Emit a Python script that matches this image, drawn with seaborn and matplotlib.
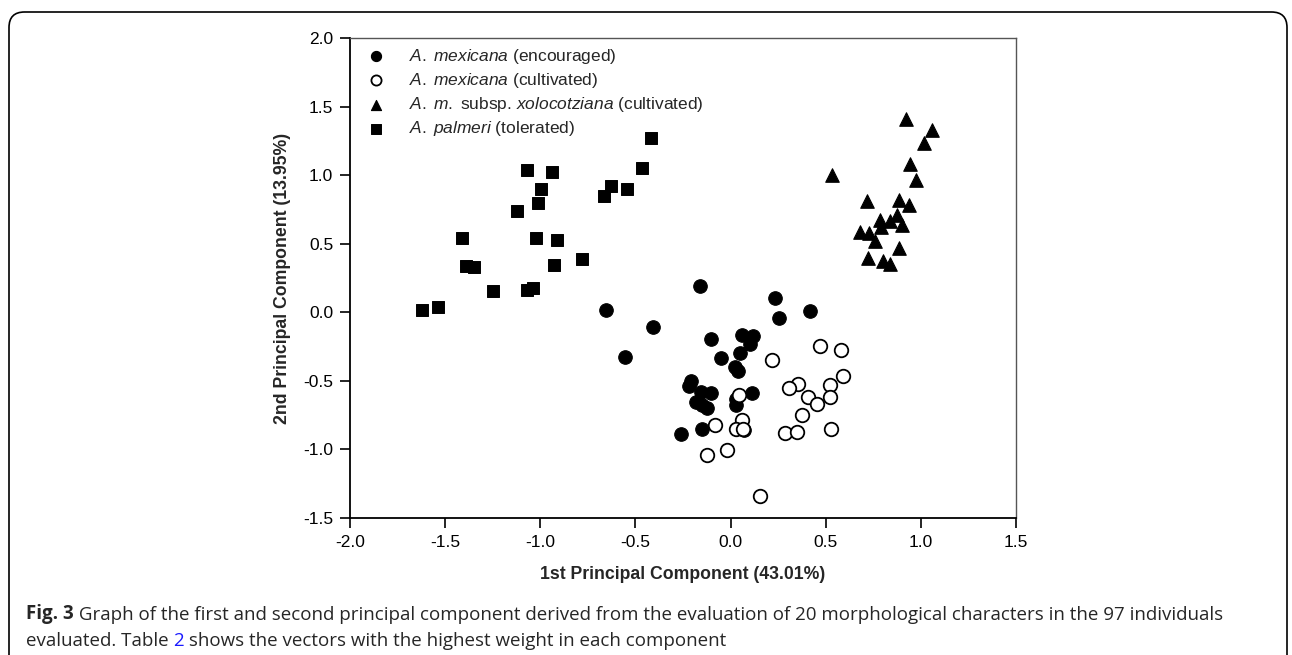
import pandas as pd
import seaborn as sns
import matplotlib.pyplot as plt
from matplotlib.patches import FancyBboxPatch

# PC scores
enc_x = [-0.653, -0.41, -0.16, -0.555, 0.232, 0.253, 0.42, -0.105, 0.058, 0.119, 0.10, 0.047,
         -0.049, 0.023, 0.04, -0.206, -0.218, -0.157, -0.105, -0.183, -0.148, -0.126, 0.11,
         0.031, 0.026, -0.258, -0.152, 0.07]
enc_y = [0.02, -0.11, 0.19, -0.326, 0.107, -0.04, 0.007, -0.197, -0.163, -0.175, -0.233, -0.30,
         -0.335, -0.40, -0.43, -0.503, -0.535, -0.581, -0.589, -0.654, -0.678, -0.70, -0.589,
         -0.63, -0.678, -0.89, -0.853, -0.855]

cult_x = [0.22, 0.468, 0.578, 0.592, 0.524, 0.356, 0.305, 0.407, 0.522, 0.454, 0.374, 0.285,
          0.351, 0.527, 0.045, 0.061, 0.03, 0.066, -0.082, -0.017, -0.126, 0.154]
cult_y = [-0.35, -0.243, -0.277, -0.467, -0.53, -0.52, -0.55, -0.615, -0.62, -0.67, -0.75, -0.88,
          -0.875, -0.85, -0.605, -0.788, -0.85, -0.85, -0.82, -1.007, -1.04, -1.342]

xolo_x = [0.922, 1.06, 1.016, 0.943, 0.974, 0.533, 0.718, 0.884, 0.938, 0.873, 0.838, 0.787,
          0.79, 0.903, 0.68, 0.725, 0.76, 0.887, 0.723, 0.803, 0.838]
xolo_y = [1.41, 1.33, 1.235, 1.08, 0.963, 0.999, 0.81, 0.82, 0.785, 0.707, 0.666, 0.67,
          0.62, 0.64, 0.586, 0.578, 0.52, 0.47, 0.396, 0.372, 0.355]

palm_x = [-0.42, -1.07, -0.94, -0.995, -1.01, -1.12, -0.466, -0.627, -0.667, -0.545, -1.41,
          -1.025, -0.91, -1.39, -1.35, -0.93, -0.78, -1.25, -1.07, -1.04, -1.62, -1.54]
palm_y = [1.27, 1.04, 1.02, 0.90, 0.80, 0.74, 1.05, 0.92, 0.85, 0.90, 0.54,
          0.545, 0.53, 0.34, 0.33, 0.345, 0.39, 0.155, 0.16, 0.18, 0.02, 0.035]

groups = ["enc", "cult", "xolo", "palm"]
labels = [r"$\it{A.\;mexicana}$ (encouraged)",
          r"$\it{A.\;mexicana}$ (cultivated)",
          r"$\it{A.\;m.}$ subsp. $\it{xolocotziana}$ (cultivated)",
          r"$\it{A.\;palmeri}$ (tolerated)"]

df = pd.concat([
    pd.DataFrame({"pc1": enc_x, "pc2": enc_y, "group": "enc"}),
    pd.DataFrame({"pc1": cult_x, "pc2": cult_y, "group": "cult"}),
    pd.DataFrame({"pc1": xolo_x, "pc2": xolo_y, "group": "xolo"}),
    pd.DataFrame({"pc1": palm_x, "pc2": palm_y, "group": "palm"}),
], ignore_index=True)

sns.set_style("white")
plt.rcParams["font.family"] = ["Liberation Sans", "DejaVu Sans"]
plt.rcParams["mathtext.fontset"] = "custom"
plt.rcParams["mathtext.it"] = "Liberation Sans:italic"
plt.rcParams["mathtext.rm"] = "Liberation Sans"

fig = plt.figure(figsize=(12.92, 6.55), dpi=100)
ax = fig.add_axes([350 / 1292, 1 - 518 / 655, (1016 - 350) / 1292, (518 - 38) / 655])

styles = {
    "enc": dict(marker="o", color="black", edgecolor="black", s=95),
    "cult": dict(marker="o", color="white", edgecolor="black", s=95, linewidth=1.3),
    "xolo": dict(marker="^", color="black", edgecolor="black", s=95),
    "palm": dict(marker="s", color="black", edgecolor="black", s=75),
}
for g, lab in zip(groups, labels):
    sns.scatterplot(data=df[df.group == g], x="pc1", y="pc2", ax=ax, label=lab, **styles[g])

ax.set_xlim(-2.0, 1.5)
ax.set_ylim(-1.5, 2.0)
ax.set_xticks([-2.0, -1.5, -1.0, -0.5, 0.0, 0.5, 1.0, 1.5])
ax.set_yticks([-1.5, -1.0, -0.5, 0.0, 0.5, 1.0, 1.5, 2.0])
ax.xaxis.set_major_formatter(plt.FormatStrFormatter("%.1f"))
ax.yaxis.set_major_formatter(plt.FormatStrFormatter("%.1f"))
ax.tick_params(axis="both", which="major", direction="out", length=7, width=1.2,
               labelsize=12.5, color="black", labelcolor="black",
               bottom=True, left=True, pad=5)
for side in ["left", "bottom"]:
    ax.spines[side].set_color("black")
    ax.spines[side].set_linewidth(1.3)
for side in ["top", "right"]:
    ax.spines[side].set_color("#555555")
    ax.spines[side].set_linewidth(1.0)

ax.set_xlabel("1st Principal Component (43.01%)", fontsize=12.7, fontweight="bold", labelpad=12)
ax.set_ylabel("2nd Principal Component (13.95%)", fontsize=12.7, fontweight="bold", labelpad=9)

leg = ax.legend(loc="upper left", frameon=False, fontsize=12.5, markerscale=0.75,
                handletextpad=0.9, labelspacing=0.3, borderaxespad=0.1,
                bbox_to_anchor=(0.0, 1.0))

# rounded frame around the figure
frame = FancyBboxPatch((9 / 1292, -0.05), 1278 / 1292, 1 - 12 / 655 + 0.05,
                       boxstyle="round,pad=0,rounding_size=0.012",
                       transform=fig.transFigure, fill=False, edgecolor="black",
                       linewidth=1.2, mutation_aspect=1292 / 655)
fig.patches.append(frame)

# caption
cap_font = ["Open Sans", "DejaVu Sans"]
t1 = fig.text(26 / 1292, 1 - 619 / 655, "Fig. 3", fontsize=13.5, fontweight="bold",
              family=cap_font, va="baseline")
ax.annotate(" Graph of the first and second principal component derived from the evaluation "
            "of 20 morphological characters in the 97 individuals",
            xy=(1, 0), xycoords=t1, va="bottom", fontsize=13.5, family=cap_font,
            annotation_clip=False)
t2 = fig.text(26 / 1292, 1 - 646 / 655, "evaluated. Table ", fontsize=13.5,
              family=cap_font, va="baseline")
t3 = ax.annotate("2", xy=(1, 0), xycoords=t2, va="bottom", fontsize=13.5,
                 family=cap_font, color="#1a1aff", annotation_clip=False)
ax.annotate(" shows the vectors with the highest weight in each component",
            xy=(1, 0), xycoords=t3, va="bottom", fontsize=13.5, family=cap_font,
            annotation_clip=False)

fig.savefig("out.png", dpi=100)
